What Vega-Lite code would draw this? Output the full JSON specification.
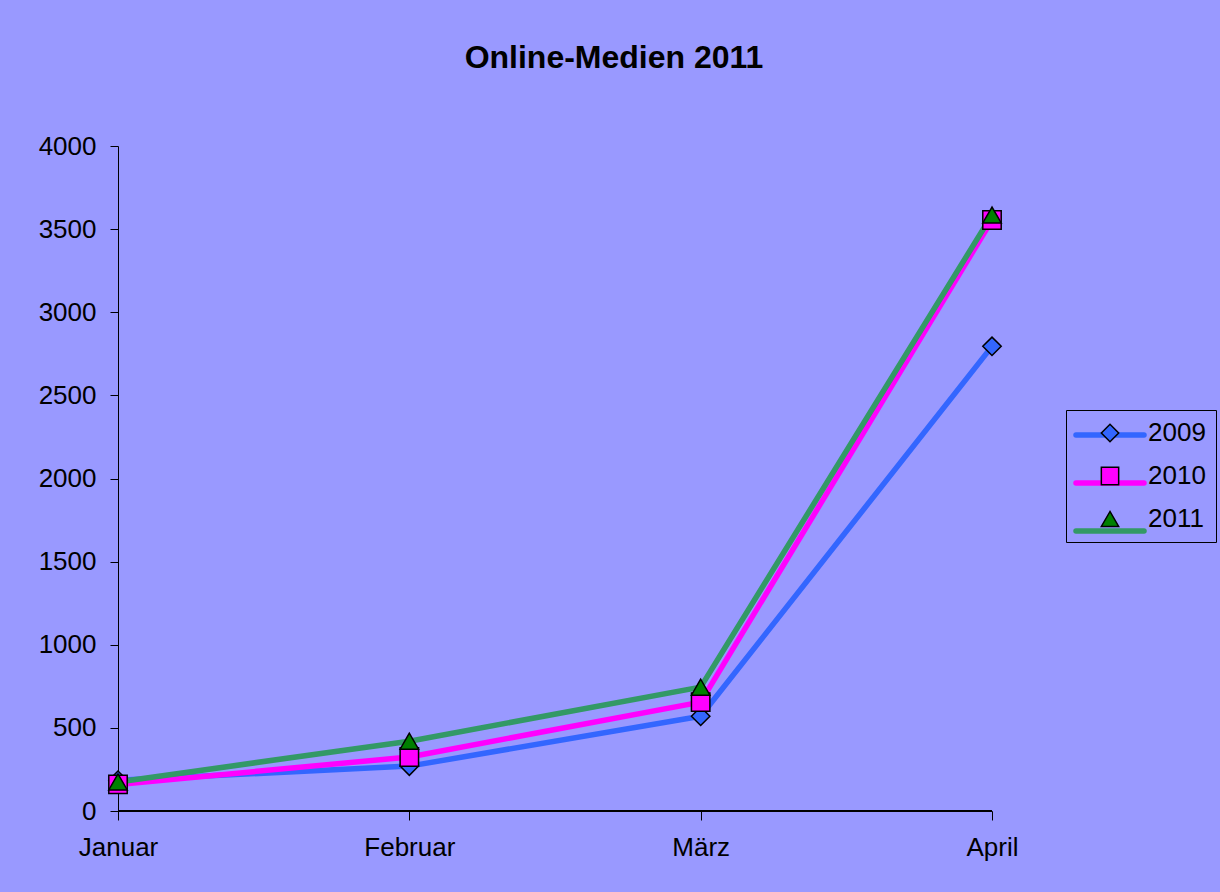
{
  "$schema": "https://vega.github.io/schema/vega-lite/v6.json",
  "autosize": "none",
  "width": 874,
  "height": 665,
  "padding": {"left": 118, "top": 146, "right": 228, "bottom": 81},
  "background": "#9999ff",
  "config": {
    "view": {"stroke": null},
    "font": "Liberation Sans",
    "axis": {"grid": false, "domain": true, "domainColor": "black", "tickColor": "black", "labelColor": "black", "labelFont": "Liberation Sans", "labelFontSize": 26, "tickSize": 9, "domainWidth": 1, "tickWidth": 1}
  },
  "title": {"text": "Online-Medien 2011", "font": "Liberation Sans", "fontSize": 32, "fontWeight": "bold", "color": "black", "anchor": "middle", "frame": "group", "dx": 59, "offset": 58},
  "data": {"values": [
    {"month": "Januar", "year": "2009", "value": 185},
    {"month": "Februar", "year": "2009", "value": 270},
    {"month": "März", "year": "2009", "value": 570},
    {"month": "April", "year": "2009", "value": 2795},
    {"month": "Januar", "year": "2010", "value": 160},
    {"month": "Februar", "year": "2010", "value": 325},
    {"month": "März", "year": "2010", "value": 655},
    {"month": "April", "year": "2010", "value": 3555},
    {"month": "Januar", "year": "2011", "value": 175},
    {"month": "Februar", "year": "2011", "value": 420},
    {"month": "März", "year": "2011", "value": 745},
    {"month": "April", "year": "2011", "value": 3585}
  ]},
  "encoding": {
    "x": {"field": "month", "type": "nominal", "sort": ["Januar", "Februar", "März", "April"],
      "scale": {"type": "point", "padding": 0},
      "axis": {"title": null, "labelAngle": 0, "labelPadding": 14, "domain": true, "domainColor": "black"}},
    "y": {"field": "value", "type": "quantitative",
      "scale": {"domain": [0, 4000], "nice": false},
      "axis": {"title": null, "format": "d", "values": [0, 500, 1000, 1500, 2000, 2500, 3000, 3500, 4000], "labelPadding": 14, "tickSize": 8}}
  },
  "layer": [
    {
      "mark": {"type": "rule", "color": "#000000", "strokeWidth": 1},
      "encoding": {"x": {"datum": "Januar"}, "x2": {"datum": "April"}, "y": {"datum": 0}}
    },
    {
      "mark": {"type": "line", "strokeWidth": 5.5, "strokeJoin": "round"},
      "encoding": {
        "stroke": {"field": "year", "type": "nominal",
          "scale": {"domain": ["2009", "2010", "2011"], "range": ["#3366ff", "#ff00ff", "#339966"]},
          "legend": {"title": null, "orient": "none", "legendX": 948, "legendY": 242, "padding": 10,
            "symbolType": "stroke", "symbolSize": 300, "symbolOffset": -3, "rowPadding": -25,
            "labelFontSize": 10, "labelExpr": "''", "labelOpacity": 0,
            "encode": {"symbols": {"update": {"size": {"value": 4624}, "strokeWidth": {"value": 5.5}, "strokeCap": {"value": "round"}}}}}
        },
        "order": {"field": "year"}
      }
    },
    {
      "mark": {"type": "point", "filled": true, "size": 340, "stroke": "black", "strokeWidth": 1.5, "opacity": 1},
      "encoding": {
        "fill": {"field": "year", "type": "nominal",
          "scale": {"range": ["#3366ff", "#ff00ff", "#008000"]},
          "legend": {"title": null, "orient": "none", "legendX": 948, "legendY": 264, "padding": 10,
            "symbolSize": 300, "symbolOffset": 21, "rowPadding": 17, "symbolStrokeColor": "black", "symbolStrokeWidth": 1.5,
            "labelFontSize": 26, "labelColor": "black", "labelOffset": 25,
            "strokeColor": "black", "fillColor": null}
        },
        "shape": {"field": "year", "type": "nominal",
          "scale": {"range": ["diamond", "square", "triangle-up"]},
          "legend": {"title": null, "orient": "none", "legendX": 948, "legendY": 264, "padding": 10,
            "symbolSize": 300, "symbolOffset": 21, "rowPadding": 17,
            "labelFontSize": 26, "labelOffset": 25, "strokeColor": "black"}
        }
      }
    }
  ]
}
